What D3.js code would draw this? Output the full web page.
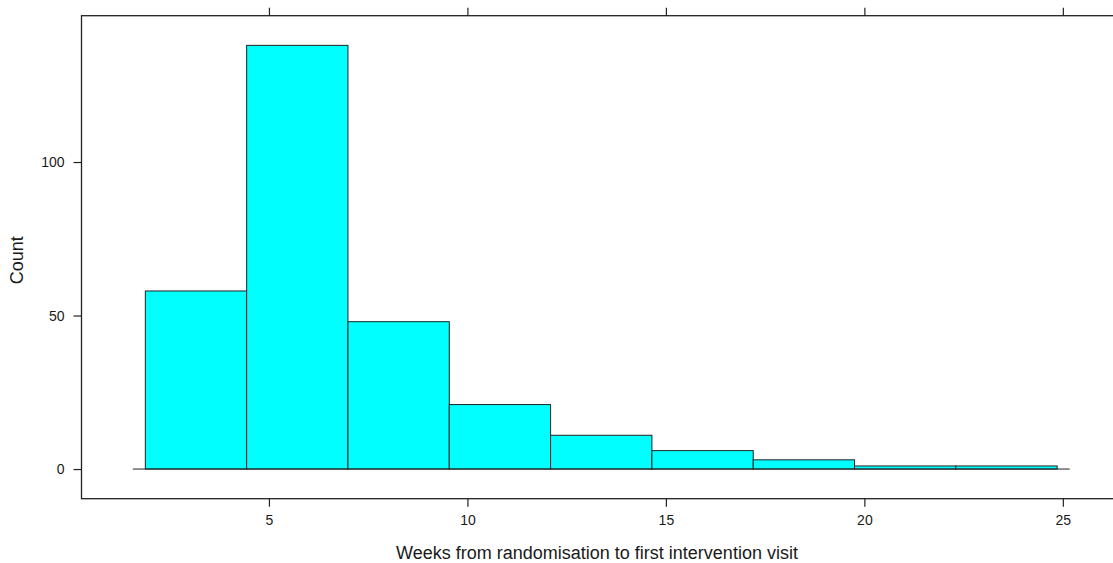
<!DOCTYPE html>
<html>
<head>
<meta charset="utf-8">
<script src="https://cdn.jsdelivr.net/npm/d3@7"></script>
<style>
  html, body { margin: 0; padding: 0; background: #fff; }
  svg { display: block; }
  text { font-family: "Liberation Sans", Arial, sans-serif; fill: #1a1a1a; }
</style>
</head>
<body>
<svg id="chart" width="1113" height="563"></svg>
<script>
// Histogram of weeks from randomisation to first intervention visit
const weekRange = [1.886, 24.857];            // smallest and largest observation
const binCounts = [58, 138, 48, 21, 11, 6, 3, 1, 1];
const xTicks = [5, 10, 15, 20, 25];
const yTicks = [0, 50, 100];
const xTitle = "Weeks from randomisation to first intervention visit";
const yTitle = "Count";

// equal-width bins spanning the data range
const nBins = binCounts.length;
const binWidth = (weekRange[1] - weekRange[0]) / nBins;
const bins = binCounts.map((c, i) => ({
  x0: weekRange[0] + i * binWidth,
  x1: weekRange[0] + (i + 1) * binWidth,
  count: c
}));

const svg = d3.select("#chart");
const panel = { left: 81.5, right: 1121, top: 15.7, bottom: 498.7 };

// axis limits padded by 7% on each side
const pad = 0.07;
const xSpan = weekRange[1] - weekRange[0];
const yMax = d3.max(binCounts);
const x = d3.scaleLinear()
  .domain([weekRange[0] - pad * xSpan, weekRange[1] + pad * xSpan])
  .range([panel.left, panel.right]);
const y = d3.scaleLinear()
  .domain([-pad * yMax, yMax * (1 + pad)])
  .range([panel.bottom, panel.top]);

const ink = "#222";
const tickLen = 8;

// bars
svg.append("g")
  .selectAll("rect")
  .data(bins)
  .join("rect")
  .attr("x", d => x(d.x0))
  .attr("width", d => x(d.x1) - x(d.x0))
  .attr("y", d => y(d.count))
  .attr("height", d => y(0) - y(d.count))
  .attr("fill", "#00FFFF")
  .attr("stroke", ink)
  .attr("stroke-width", 1);

// baseline under the bars
const baseExt = 0.0137 * xSpan;
svg.append("line")
  .attr("x1", x(weekRange[0] - baseExt))
  .attr("x2", x(weekRange[1] + baseExt))
  .attr("y1", y(0)).attr("y2", y(0))
  .attr("stroke", ink).attr("stroke-width", 1);

// panel frame
svg.append("rect")
  .attr("x", panel.left).attr("y", panel.top)
  .attr("width", panel.right - panel.left)
  .attr("height", panel.bottom - panel.top)
  .attr("fill", "none").attr("stroke", ink).attr("stroke-width", 1.3);

// bottom axis with labels, top axis ticks only
const xAxisBottom = d3.axisBottom(x).tickValues(xTicks).tickSize(tickLen).tickPadding(8).tickFormat(d3.format("d"));
const xAxisTop = d3.axisTop(x).tickValues(xTicks).tickSize(tickLen).tickFormat("");
const yAxisLeft = d3.axisLeft(y).tickValues(yTicks).tickSize(tickLen).tickPadding(9).tickFormat(d3.format("d"));
const yAxisRight = d3.axisRight(y).tickValues(yTicks).tickSize(tickLen).tickFormat("");

function styleAxis(g) {
  g.select(".domain").remove();
  g.selectAll(".tick line").attr("stroke", ink).attr("stroke-width", 1.2);
  g.selectAll(".tick text")
    .style("font-family", "'Liberation Sans', Arial, sans-serif")
    .style("font-size", "14px")
    .attr("fill", "#1a1a1a");
}

svg.append("g").attr("transform", `translate(0,${panel.bottom})`).call(xAxisBottom).call(styleAxis);
svg.append("g").attr("transform", `translate(0,${panel.top})`).call(xAxisTop).call(styleAxis);
svg.append("g").attr("transform", `translate(${panel.left},0)`).call(yAxisLeft).call(styleAxis);
svg.append("g").attr("transform", `translate(${panel.right},0)`).call(yAxisRight).call(styleAxis);

// axis titles
svg.append("text")
  .attr("x", 597).attr("y", 559)
  .attr("text-anchor", "middle")
  .style("font-size", "18px")
  .text(xTitle);

svg.append("text")
  .attr("transform", `translate(23,${(panel.top + panel.bottom) / 2 + 3}) rotate(-90)`)
  .attr("text-anchor", "middle")
  .style("font-size", "18px")
  .text(yTitle);
</script>
</body>
</html>
